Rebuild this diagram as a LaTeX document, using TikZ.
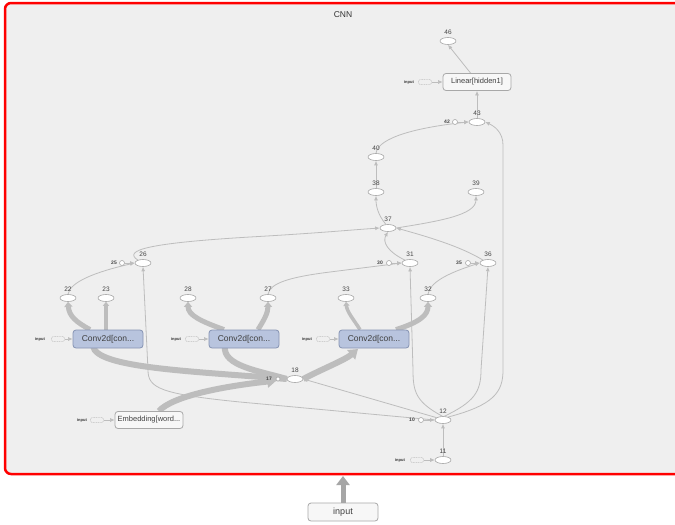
\documentclass[tikz,border=0pt]{standalone}
\usepackage{fontspec}
\setmainfont{Liberation Sans}
\usetikzlibrary{arrows.meta,shapes.geometric}
\pgfdeclarelayer{edges}
\pgfsetlayers{edges,main}
\definecolor{bgc}{HTML}{EFEFEF}
\definecolor{edgec}{HTML}{BDBDBD}
\definecolor{thinc}{HTML}{BDBDBD}
\definecolor{nodeb}{HTML}{A8A8A8}
\definecolor{convf}{HTML}{B8C4DE}
\definecolor{convb}{HTML}{8593B3}
\definecolor{txt}{HTML}{444444}
\tikzset{
  op/.style={ellipse,draw=nodeb,fill=white,line width=0.6pt,minimum width=16pt,minimum height=7pt,inner sep=0pt},
  cst/.style={circle,draw=nodeb,fill=white,line width=0.6pt,minimum size=5pt,inner sep=0pt},
  num/.style={font=\fontsize{6.5}{7}\selectfont,text=txt,inner sep=0pt},
  cnum/.style={font=\fontsize{5}{5}\selectfont\bfseries,text=txt,inner sep=0pt},
  convbox/.style={rectangle,rounded corners=3pt,draw=convb,fill=convf,line width=0.8pt,minimum width=70pt,minimum height=18pt,inner sep=0pt,font=\fontsize{8.5}{9}\selectfont,text=black!75},
  greybox/.style={rectangle,rounded corners=3pt,draw=nodeb,fill=black!3,line width=0.8pt,minimum width=68pt,minimum height=17pt,inner sep=0pt,font=\fontsize{7.5}{8}\selectfont,text=black!75},
  inbox/.style={rectangle,rounded corners=1.5pt,draw=black!25,dashed,dash pattern=on 1pt off 0.7pt,line width=0.5pt,minimum width=13pt,minimum height=5pt,inner sep=0pt},
  inlabel/.style={font=\fontsize{4}{4}\selectfont\bfseries,text=black!80,inner sep=0pt},
  thin/.style={draw=thinc,line width=0.8pt,-{Latex[length=4.5pt,width=4pt]}},
  thick/.style={draw=edgec,line width=6pt,-{Triangle[length=9pt,width=12pt]}},
  outthick/.style={draw=edgec,line width=5pt,-{Triangle[length=5pt,width=8pt]}},
  medium/.style={draw=edgec,line width=3.5pt,-{Triangle[length=4pt,width=6pt]}},
}
\begin{document}
\begin{tikzpicture}[x=1pt,y=-1pt]
\useasboundingbox (0,0) rectangle (675,525);
\begin{pgfonlayer}{edges}
\fill[white] (0,0) rectangle (675,525);
\draw[red,line width=2.5pt,fill=bgc,rounded corners=6pt] (5,3) rectangle (700,474);
\end{pgfonlayer}
\node[font=\fontsize{8.5}{9}\selectfont,text=black!80] (cnnlabel) at (343,15) {CNN};
\coordinate (cnnbottom) at (343,476);

% bottom input
\node[greybox,minimum width=70pt,minimum height=18pt,font=\fontsize{9}{9}\selectfont] (inp) at (343,512) {input};
\draw[draw=black!35,line width=5pt,-{Triangle[length=9pt,width=13pt]}] (inp.north) -- (cnnbottom);

% nodes
\node[op] (n46) at (448,41) {}; \node[num] (l46) at (448,32) {46};
\node[greybox] (lin) at (477,82) {Linear[hidden1]};
\node[op] (n43) at (477,122) {}; \node[num] (l43) at (477,113) {43};
\node[cst] (c42) at (455,122) {}; \node[cnum] (l42) at (447,122) {42};
\node[op] (n40) at (376,157) {}; \node[num] (l40) at (376,148) {40};
\node[op] (n38) at (376,192) {}; \node[num] (l38) at (376,183) {38};
\node[op] (n39) at (476,192) {}; \node[num] (l39) at (476,183) {39};
\node[op] (n37) at (388,228) {}; \node[num] (l37) at (388,219) {37};
\node[op] (n26) at (143,263) {}; \node[num] (l26) at (143,254) {26};
\node[cst] (c25) at (122,263) {}; \node[cnum] (l25) at (114,263) {25};
\node[op] (n31) at (410,263) {}; \node[num] (l31) at (410,254) {31};
\node[cst] (c30) at (389,263) {}; \node[cnum] (l30) at (380,263) {30};
\node[op] (n36) at (488,263) {}; \node[num] (l36) at (488,254) {36};
\node[cst] (c35) at (468,263) {}; \node[cnum] (l35) at (459,263) {35};
\node[op] (n22) at (68,298) {}; \node[num] (l22) at (68,289) {22};
\node[op] (n23) at (106,298) {}; \node[num] (l23) at (106,289) {23};
\node[op] (n28) at (188,298) {}; \node[num] (l28) at (188,289) {28};
\node[op] (n27) at (268,298) {}; \node[num] (l27) at (268,289) {27};
\node[op] (n33) at (346,298) {}; \node[num] (l33) at (346,289) {33};
\node[op] (n32) at (428,298) {}; \node[num] (l32) at (428,289) {32};
\node[op] (n18) at (295,379) {}; \node[num] (l18) at (295,370) {18};
\node[cst,minimum size=4pt] (c17) at (278,379) {}; \node[cnum] (l17) at (269,379) {17};
\node[op] (n12) at (443,420) {}; \node[num] (l12) at (443,411) {12};
\node[cst] (c10) at (421,420) {}; \node[cnum] (l10) at (412,420) {10};
\node[op] (n11) at (443,460) {}; \node[num] (l11) at (443,451) {11};
\node[greybox] (emb) at (149,420) {Embedding[word...};
\node[convbox] (conv1) at (108,339) {Conv2d[con...};
\node[convbox] (conv2) at (244,339) {Conv2d[con...};
\node[convbox] (conv3) at (374,339) {Conv2d[con...};

% input stubs
\node[inlabel] (il1) at (40,339) {input}; \node[inbox] (ib1) at (58,339) {};
\node[inlabel] (il2) at (176,339) {input}; \node[inbox] (ib2) at (192,339) {};
\node[inlabel] (il3) at (307,339) {input}; \node[inbox] (ib3) at (323,339) {};
\node[inlabel] (il4) at (82,420) {input}; \node[inbox] (ib4) at (97,420) {};
\node[inlabel] (il5) at (409,82) {input}; \node[inbox] (ib5) at (425,82) {};
\node[inlabel] (il6) at (400,460) {input}; \node[inbox] (ib6) at (417,460) {};

\begin{pgfonlayer}{edges}
% thin edges
\draw[thin] (n12.west) -- (240,402) .. controls (160,394) and (148,388) .. (148,370) -- (n26.south);
\draw[thin] (n12.160) -- (n18.east);
\draw[thin] (n12.100) .. controls (416,402) and (413,392) .. (413,370) -- (n31.south);
\draw[thin] (n12.70) .. controls (474,402) and (481,392) .. (481,370) -- (n36.south);
\draw[thin] (n12.30) .. controls (494,405) and (503,392) .. (503,370) -- (503,145) .. controls (503,132) and (494,126) .. (n43.east);
\draw[thin] (n11.north) -- (n12.south);
\draw[thin] (c10.east) -- (n12.west);
\draw[thin] (c17.east) -- (n18.west);
\draw[thin] (n22.north) .. controls (70,282) and (95,272) .. (n26.west);
\draw[thin] (c25.east) -- (n26.west);
\draw[thin] (n27.north) .. controls (270,283) and (290,277) .. (330,272) -- (n31.west);
\draw[thin] (c30.east) -- (n31.west);
\draw[thin] (n32.north) .. controls (430,283) and (445,274) .. (n36.west);
\draw[thin] (c35.east) -- (n36.west);
\draw[thin] (n26.150) .. controls (122,250) and (150,243) .. (250,237) .. controls (320,233) and (350,230) .. (n37.west);
\draw[thin] (n31.150) .. controls (388,252) and (382,242) .. (n37.south);
\draw[thin] (n36.150) .. controls (460,246) and (425,236) .. (n37.east);
\draw[thin] (n37.120) .. controls (378,215) and (376,206) .. (n38.south);
\draw[thin] (n37.east) .. controls (440,221) and (476,215) .. (n39.south);
\draw[thin] (n38.north) -- (n40.south);
\draw[thin] (n40.north) .. controls (378,137) and (420,127) .. (n43.west);
\draw[thin] (c42.east) -- (n43.west);
\draw[thin] (n43.north) -- (lin.south);
\path (lin.north west) ++(28,0) coordinate (linout);
\draw[thin] (linout) -- (n46.south);
\draw[thin,line width=0.6pt] (ib1.east) -- (conv1.west);
\draw[thin,line width=0.6pt] (ib2.east) -- (conv2.west);
\draw[thin,line width=0.6pt] (ib3.east) -- (conv3.west);
\draw[thin,line width=0.6pt] (ib4.east) -- (emb.west);
\draw[thin,line width=0.6pt] (ib5.east) -- (lin.west);
\draw[thin,line width=0.6pt] (ib6.east) -- (n11.west);

% thick edges
\path (emb.north) ++(10,0) coordinate (embout);
\draw[thick] (embout) .. controls (172,396) and (225,386) .. (c17.south west);
\draw[thick,-] (n18.west) .. controls (190,371) and (96,368) .. (93,346);
\draw[thick,-] (n18.west) .. controls (260,371) and (222,366) .. (225,346);
\draw[thick] (n18.east) .. controls (320,370) and (345,360) .. (358,349);

\path (conv1.north) ++(-18,0) coordinate (c1a);
\draw[outthick] (c1a) .. controls (76,322) and (69,316) .. (n22.south);
\path (conv1.north) ++(-2,0) coordinate (c1b);
\draw[medium] (c1b) -- (n23.south);
\path (conv2.north) ++(-20,0) coordinate (c2a);
\draw[outthick] (c2a) .. controls (200,321) and (188,315) .. (n28.south);
\path (conv2.north) ++(14,0) coordinate (c2b);
\draw[outthick] (c2b) .. controls (264,320) and (268,313) .. (n27.south);
\path (conv3.north) ++(-14,0) coordinate (c3a);
\draw[medium] (c3a) .. controls (354,320) and (347,312) .. (n33.south);
\path (conv3.north) ++(22,0) coordinate (c3b);
\draw[outthick] (c3b) .. controls (420,322) and (428,315) .. (n32.south);
\end{pgfonlayer}
\end{tikzpicture}
\end{document}
